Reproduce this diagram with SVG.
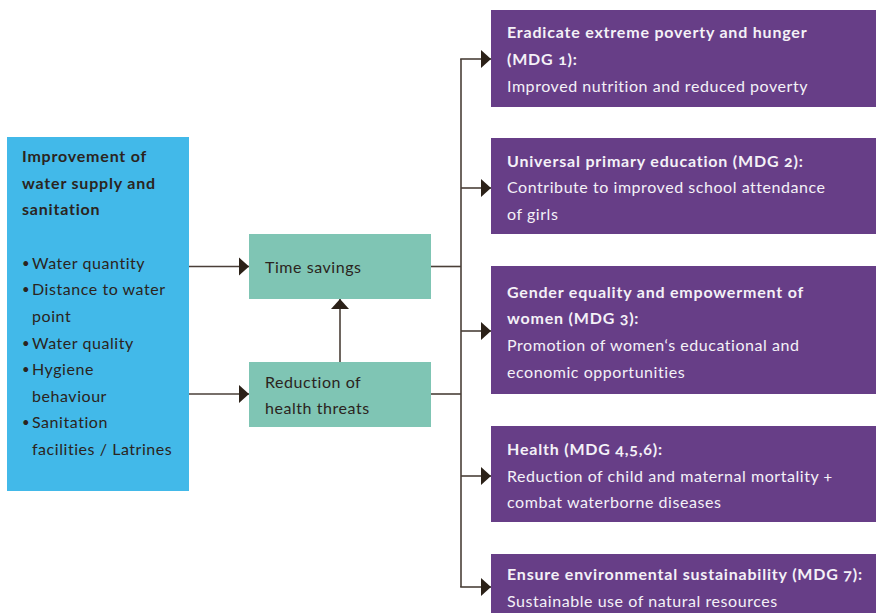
<svg xmlns="http://www.w3.org/2000/svg" width="876" height="613" viewBox="0 0 876 613">
<style>
.t{font-family:Lato,"Open Sans","Liberation Sans",sans-serif;font-size:16px;letter-spacing:0.55px;font-variant-numeric:oldstyle-nums}
.dk{fill:#2b2420}
.wt{fill:#f4f1f7}
.b{font-weight:bold;letter-spacing:0.8px}
.bu{font-size:13px}
.ln{stroke:#4a3f38;stroke-width:1.6;fill:none}
.blue{fill:#42b9e9}
.green{fill:#7fc5b4}
.purple{fill:#673e87}
</style>
<defs>
<marker id="ah" markerUnits="userSpaceOnUse" markerWidth="12" markerHeight="20" viewBox="0 0 12 20" refX="11" refY="10" orient="auto">
<path d="M1,1 L11,10 L1,19 Z" fill="#2b2118"/>
</marker>
</defs>
<rect width="876" height="613" fill="#ffffff"/>

<g id="connectors">
<line class="ln" x1="189" y1="266.5" x2="249" y2="266.5" marker-end="url(#ah)"/>
<line class="ln" x1="189" y1="394" x2="249" y2="394" marker-end="url(#ah)"/>
<line class="ln" x1="340" y1="362" x2="340" y2="299" marker-end="url(#ah)"/>
<line class="ln" x1="431" y1="266.5" x2="461" y2="266.5"/>
<line class="ln" x1="431" y1="394" x2="461" y2="394"/>
<line class="ln" x1="461" y1="59" x2="461" y2="587"/>
<line class="ln" x1="460.2" y1="59" x2="491" y2="59" marker-end="url(#ah)"/>
<line class="ln" x1="461" y1="188" x2="491" y2="188" marker-end="url(#ah)"/>
<line class="ln" x1="461" y1="331" x2="491" y2="331" marker-end="url(#ah)"/>
<line class="ln" x1="461" y1="476" x2="491" y2="476" marker-end="url(#ah)"/>
<line class="ln" x1="460.2" y1="587" x2="491" y2="587" marker-end="url(#ah)"/>
</g>

<g id="improvement">
<rect class="blue" x="7" y="137" width="182" height="354"/>
<text class="t dk b" x="22" y="162">Improvement of</text>
<text class="t dk b" x="22" y="189">water supply and</text>
<text class="t dk b" x="22" y="215">sanitation</text>
<text class="t dk bu" x="22" y="268">•</text><text class="t dk" x="32" y="269">Water quantity</text>
<text class="t dk bu" x="22" y="294">•</text><text class="t dk" x="32" y="295">Distance to water</text>
<text class="t dk" x="32" y="322">point</text>
<text class="t dk bu" x="22" y="348">•</text><text class="t dk" x="32" y="349">Water quality</text>
<text class="t dk bu" x="22" y="374">•</text><text class="t dk" x="32" y="375">Hygiene</text>
<text class="t dk" x="32" y="402">behaviour</text>
<text class="t dk bu" x="22" y="427">•</text><text class="t dk" x="32" y="428">Sanitation</text>
<text class="t dk" x="32" y="455">facilities / Latrines</text>
</g>

<g id="time-savings">
<rect class="green" x="249" y="234" width="182" height="65"/>
<text class="t dk" x="265" y="273">Time savings</text>
</g>

<g id="health-threats">
<rect class="green" x="249" y="362" width="182" height="65"/>
<text class="t dk" x="265" y="388">Reduction of</text>
<text class="t dk" x="265" y="414">health threats</text>
</g>

<g id="mdg1">
<rect class="purple" x="491" y="10" width="385" height="97"/>
<text class="t wt b" x="507" y="38">Eradicate extreme poverty and hunger</text>
<text class="t wt b" x="507" y="65">(MDG 1):</text>
<text class="t wt" x="507" y="92">Improved nutrition and reduced poverty</text>
</g>

<g id="mdg2">
<rect class="purple" x="491" y="138" width="385" height="96"/>
<text class="t wt b" x="507" y="167">Universal primary education (MDG 2):</text>
<text class="t wt" x="507" y="193">Contribute to improved school attendance</text>
<text class="t wt" x="507" y="220">of girls</text>
</g>

<g id="mdg3">
<rect class="purple" x="491" y="266" width="385" height="128"/>
<text class="t wt b" x="507" y="298">Gender equality and empowerment of</text>
<text class="t wt b" x="507" y="324">women (MDG 3):</text>
<text class="t wt" x="507" y="351">Promotion of women‘s educational and</text>
<text class="t wt" x="507" y="378">economic opportunities</text>
</g>

<g id="mdg456">
<rect class="purple" x="491" y="426" width="385" height="96"/>
<text class="t wt b" x="507" y="455">Health (MDG 4,5,6):</text>
<text class="t wt" x="507" y="482">Reduction of child and maternal mortality +</text>
<text class="t wt" x="507" y="508">combat waterborne diseases</text>
</g>

<g id="mdg7">
<rect class="purple" x="491" y="554" width="385" height="59"/>
<text class="t wt b" x="507" y="580">Ensure environmental sustainability (MDG 7):</text>
<text class="t wt" x="507" y="607">Sustainable use of natural resources</text>
</g>
</svg>
